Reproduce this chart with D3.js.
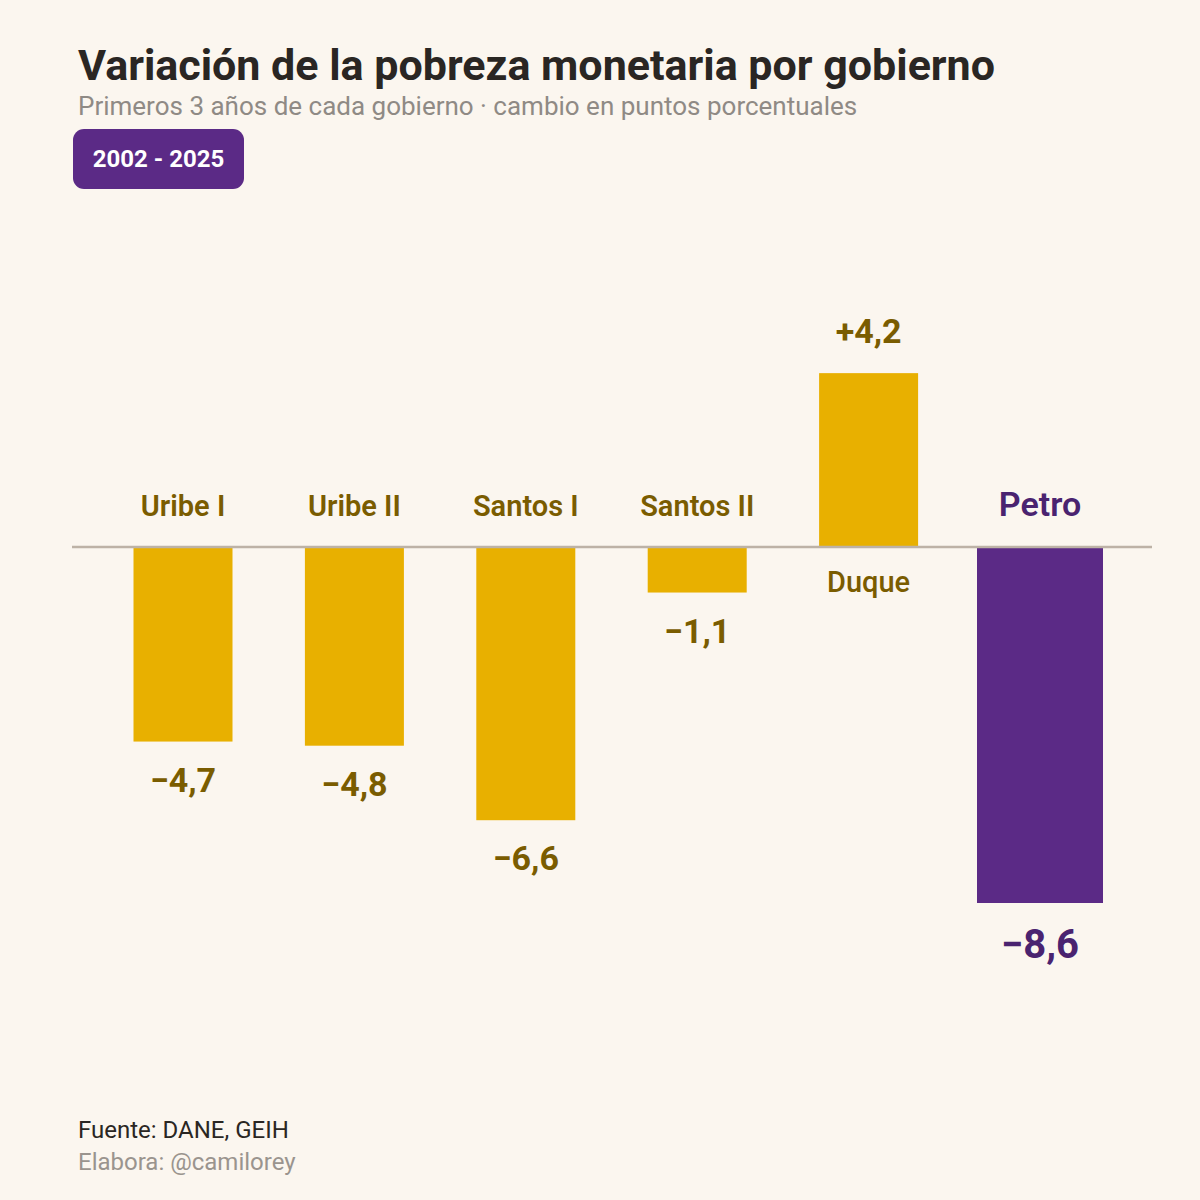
<!DOCTYPE html>
<html>
<head>
<meta charset="utf-8">
<script src="https://cdn.jsdelivr.net/npm/d3@7"></script>
<style>
  body { margin: 0; background: #FBF6EF; }
  text { font-family: Roboto, "Noto Sans", sans-serif; }
</style>
</head>
<body>
<svg id="chart" width="1200" height="1200"></svg>
<script>
// data
var gobiernos = ["Uribe I", "Uribe II", "Santos I", "Santos II", "Duque", "Petro"];
var cambios = [-4.7, -4.8, -6.6, -1.1, 4.2, -8.6];
var destacado = "Petro";

var svg = d3.select("#chart");
svg.append("rect").attr("width", 1200).attr("height", 1200).attr("fill", "#FBF6EF");

var x = d3.scalePoint().domain(gobiernos).range([183, 1040]);
var y = d3.scaleLinear().domain([0, -8.6]).range([547, 903]);

var gold = "#E8B000", goldText = "#7A5C00", purple = "#5B2A86", purpleText = "#4A2370";

function fmt(v) {
  var s = Math.abs(v).toFixed(1).replace(".", ",");
  return (v < 0 ? "\u2212" : "+") + s;
}
function bw(d) { return d === destacado ? 126 : 99; }

var data = gobiernos.map(function(g, i) { return {g: g, v: cambios[i]}; });

// title block
svg.append("text").attr("x", 78).attr("y", 80).attr("font-size", 43).attr("font-weight", 700)
  .attr("fill", "#2a2623").text("Variación de la pobreza monetaria por gobierno");
svg.append("text").attr("x", 78).attr("y", 115).attr("font-size", 26).attr("fill", "#8f8a85")
  .text("Primeros 3 años de cada gobierno  ·  cambio en puntos porcentuales");
svg.append("rect").attr("x", 73).attr("y", 129).attr("width", 171).attr("height", 60).attr("rx", 11).attr("fill", purple);
svg.append("text").attr("x", 158.5).attr("y", 167).attr("text-anchor", "middle").attr("font-size", 24)
  .attr("font-weight", 700).attr("fill", "#fff").text("2002 - 2025");

// bars
svg.selectAll("rect.bar").data(data).enter().append("rect").attr("class", "bar")
  .attr("x", function(d) { return x(d.g) - bw(d.g) / 2; })
  .attr("width", function(d) { return bw(d.g); })
  .attr("y", function(d) { return Math.min(y(d.v), y(0)); })
  .attr("height", function(d) { return Math.abs(y(d.v) - y(0)); })
  .attr("fill", function(d) { return d.g === destacado ? purple : gold; });

svg.append("line").attr("x1", 72).attr("x2", 1152).attr("y1", y(0)).attr("y2", y(0))
  .attr("stroke", "#bdb2a6").attr("stroke-width", 2.5);

// name labels
svg.selectAll("text.name").data(data).enter().append("text").attr("class", "name")
  .attr("x", function(d) { return x(d.g); })
  .attr("y", function(d) { return d.v < 0 ? y(0) - 31 : y(0) + 45; })
  .attr("text-anchor", "middle")
  .attr("font-size", function(d) { return d.g === destacado ? 34 : 29; })
  .attr("font-weight", function(d) { return d.v < 0 ? 600 : 500; })
  .attr("fill", function(d) { return d.g === destacado ? purpleText : goldText; })
  .text(function(d) { return d.g; });

// value labels
svg.selectAll("text.val").data(data).enter().append("text").attr("class", "val")
  .attr("x", function(d) { return x(d.g); })
  .attr("y", function(d) { return d.v < 0 ? y(d.v) + (d.g === destacado ? 55 : 50) : y(d.v) - 30; })
  .attr("text-anchor", "middle")
  .attr("font-size", function(d) { return d.g === destacado ? 40 : 34; })
  .attr("font-weight", 700)
  .attr("fill", function(d) { return d.g === destacado ? purpleText : goldText; })
  .text(function(d) { return fmt(d.v); });

// footer
svg.append("text").attr("x", 78).attr("y", 1138).attr("font-size", 24).attr("fill", "#2a2623").text("Fuente: DANE, GEIH");
svg.append("text").attr("x", 78).attr("y", 1170).attr("font-size", 24).attr("fill", "#9a948e").text("Elabora: @camilorey");
</script>
</body>
</html>
